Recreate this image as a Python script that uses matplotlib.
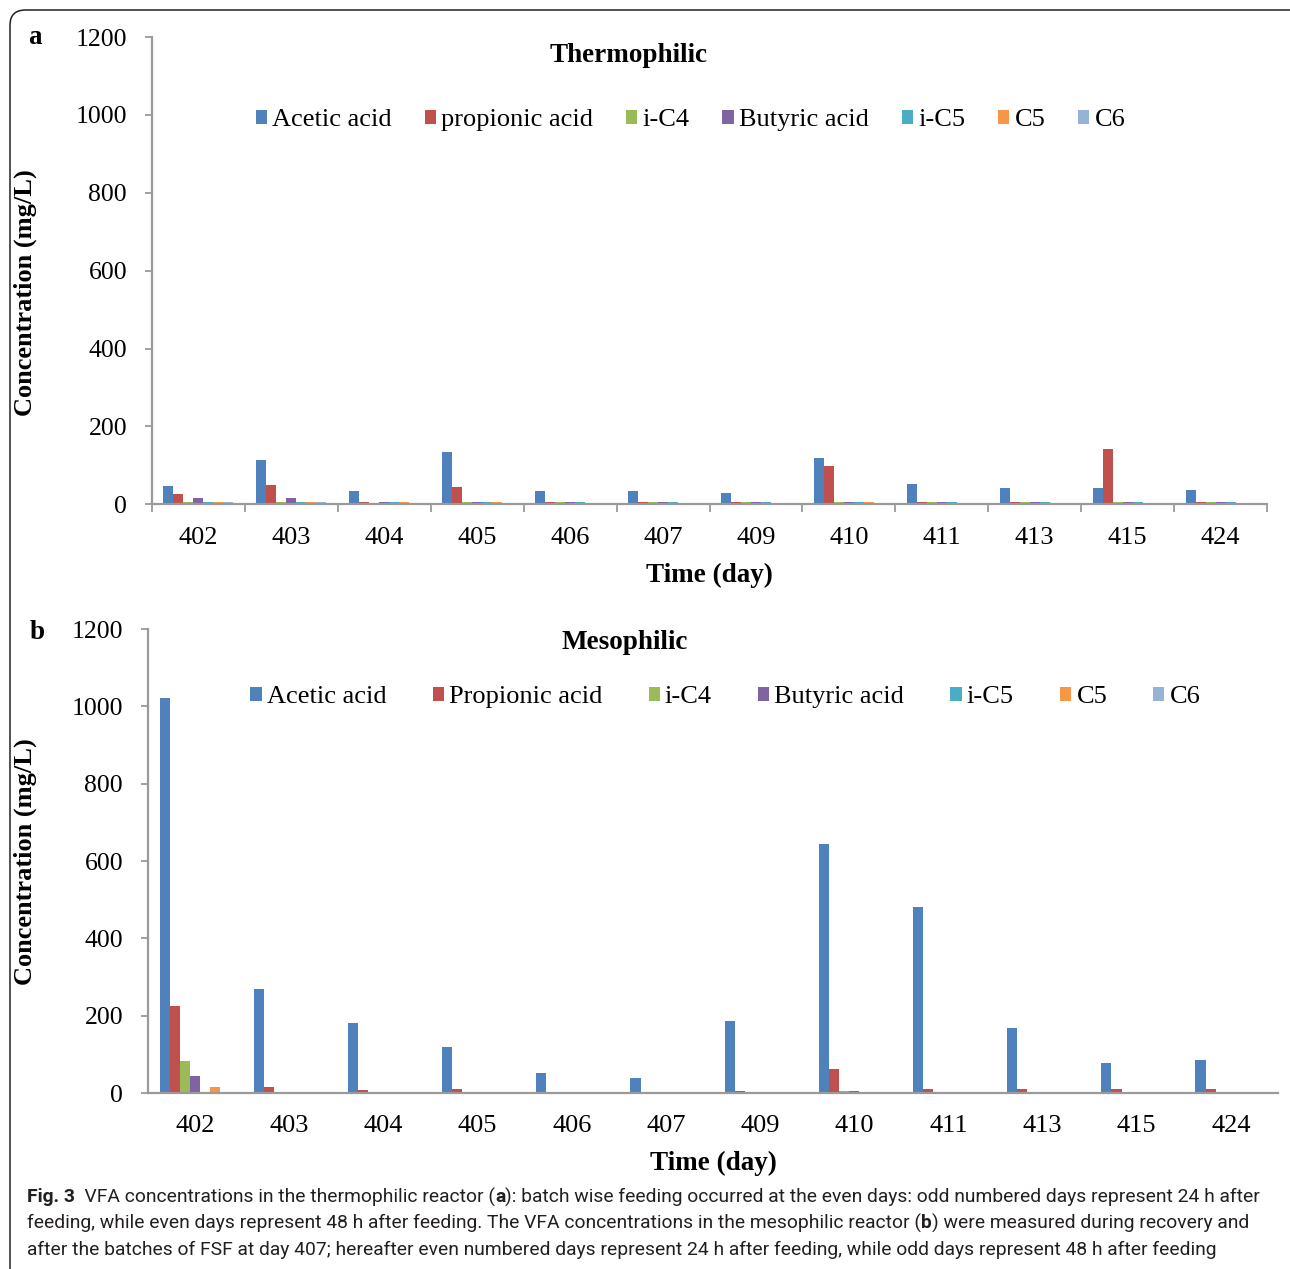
import numpy as np
import matplotlib
matplotlib.use("Agg")
import matplotlib.pyplot as plt
from matplotlib.patches import FancyBboxPatch

# data (mg/L)
days = ["402", "403", "404", "405", "406", "407", "409", "410", "411", "413", "415", "424"]
acids_a = ["Acetic acid", "propionic acid", "i-C4", "Butyric acid", "i-C5", "C5", "C6"]
acids_b = ["Acetic acid", "Propionic acid", "i-C4", "Butyric acid", "i-C5", "C5", "C6"]
colors = ["#4F81BD", "#C0504D", "#9BBB59", "#8064A2", "#4BACC6", "#F79646", "#95B3D7"]

# thermophilic reactor
thermo_acetic = [48, 114, 35, 134, 35, 35, 28, 118, 52, 43, 43, 38]
thermo_propionic = [26, 49, 5, 44, 5, 5, 5, 99, 5, 5, 142, 5]
thermo_ic4 = [5, 5, 0, 5, 5, 5, 5, 5, 5, 5, 5, 5]
thermo_butyric = [16, 16, 5, 5, 5, 5, 5, 5, 5, 5, 5, 5]
thermo_ic5 = [5, 5, 5, 5, 5, 5, 5, 5, 5, 5, 5, 5]
thermo_c5 = [5, 5, 5, 5, 0, 0, 0, 5, 0, 0, 0, 0]
thermo_c6 = [5, 5, 0, 0, 0, 0, 0, 0, 0, 0, 0, 0]

# mesophilic reactor
meso_acetic = [1022, 269, 182, 120, 53, 39, 187, 645, 482, 167, 77, 86]
meso_propionic = [226, 15, 7, 11, 0, 0, 6, 63, 11, 11, 11, 11]
meso_ic4 = [83, 0, 0, 0, 0, 0, 0, 5, 0, 0, 0, 0]
meso_butyric = [43, 0, 0, 0, 0, 0, 0, 5, 0, 0, 0, 0]
meso_ic5 = [0, 0, 0, 0, 0, 0, 0, 0, 0, 0, 0, 0]
meso_c5 = [16, 0, 0, 0, 0, 0, 0, 0, 0, 0, 0, 0]
meso_c6 = [0, 0, 0, 0, 0, 0, 0, 0, 0, 0, 0, 0]

thermo = [thermo_acetic, thermo_propionic, thermo_ic4, thermo_butyric,
          thermo_ic5, thermo_c5, thermo_c6]
meso = [meso_acetic, meso_propionic, meso_ic4, meso_butyric,
        meso_ic5, meso_c5, meso_c6]

plt.rcParams["font.family"] = ["Liberation Serif", "DejaVu Serif"]
axis_grey = "#9A9A9A"

W, H = 1290, 1269
fig = plt.figure(figsize=(W / 100, H / 100), dpi=100)

# outer frame with rounded corner
frame = FancyBboxPatch((10 / W, 1 - 1290 / H), 1300 / W, 1280 / H,
                       boxstyle="round,pad=0,rounding_size=0.012",
                       transform=fig.transFigure, fill=False,
                       edgecolor="#222222", linewidth=1.1)
fig.patches.append(frame)


def draw_panel(ax, series, labels, title, xticks_out, leg_x, leg_y,
               colspacing, title_xy, ylab_x, ylab_y):
    x = np.arange(len(days))
    width = 1 / 9.3
    for i, (vals, lab) in enumerate(zip(series, labels)):
        ax.bar(x + (i - 3) * width, vals, width, color=colors[i], label=lab,
               linewidth=0)
    ax.set_xlim(-0.5, len(days) - 0.5)
    ax.set_ylim(0, 1200)
    ax.set_yticks(np.arange(0, 1201, 200))
    ax.set_xticks(x)
    ax.set_xticklabels(days)
    for s in ["top", "right"]:
        ax.spines[s].set_visible(False)
    for s in ["left", "bottom"]:
        ax.spines[s].set_color(axis_grey)
        ax.spines[s].set_linewidth(1.6)
    ax.tick_params(axis="y", length=5, width=1.3, color=axis_grey,
                   labelsize=18.5, pad=13)
    ax.tick_params(axis="x", which="major", length=0, labelsize=19, pad=16)
    if xticks_out:
        ax.set_xticks(np.arange(-0.5, len(days), 1), minor=True)
        ax.tick_params(axis="x", which="minor", length=6, width=1.3,
                       color=axis_grey)
    ax.set_ylabel("Concentration (mg/L)", fontsize=19, fontweight="bold")
    ax.yaxis.set_label_coords(ylab_x, ylab_y)
    ax.set_xlabel("Time (day)", fontsize=19.5, fontweight="bold")
    ax.xaxis.set_label_coords(0.5, -0.152)
    ax.xaxis.label.set_va("center")
    ax.text(title_xy[0], title_xy[1], title, transform=ax.transAxes,
            ha="center", va="center", fontsize=19.5, fontweight="bold")
    ax.legend(loc="center", bbox_to_anchor=(leg_x, leg_y), ncol=7,
              frameon=False, fontsize=19, handlelength=0.42,
              handleheight=0.42, handletextpad=0.2,
              columnspacing=colspacing)
    return ax


ax1 = fig.add_axes([152 / W, 1 - 504.3 / H, 1115 / W, 467.3 / H])
draw_panel(ax1, thermo, acids_a, "Thermophilic", True, 0.483, 0.822,
           1.25, (0.427, 0.96), -0.103, 0.454)
ax2 = fig.add_axes([148 / W, 1 - 1093 / H, 1130 / W, 464 / H])
draw_panel(ax2, meso, acids_b, "Mesophilic", False, 0.511, 0.853,
           1.75, (0.422, 0.97), -0.098, 0.498)

fig.text(35 / W, 1 - 37 / H, "a", fontsize=19.5, fontweight="bold",
         ha="center", va="center")
fig.text(37 / W, 1 - 632 / H, "b", fontsize=19.5, fontweight="bold",
         ha="center", va="center")

# caption, written piece by piece so bold parts sit inline
caption = [
    [("Fig. 3", "bold"), ("  VFA concentrations in the thermophilic reactor (", "normal"),
     ("a", "bold"), ("): batch wise feeding occurred at the even days: odd numbered days "
                     "represent 24 h after", "normal")],
    [("feeding, while even days represent 48 h after feeding. The VFA concentrations in "
      "the mesophilic reactor (", "normal"), ("b", "bold"),
     (") were measured during recovery and", "normal")],
    [("after the batches of FSF at day 407; hereafter even numbered days represent 24 h "
      "after feeding, while odd days represent 48 h after feeding", "normal")],
]
cap_font = ["Roboto", "DejaVu Sans"]
cap_y = [1197, 1223, 1250]
renderer = fig.canvas.get_renderer()


def write_line(segments, y, size):
    xpos = 27.0
    texts = []
    for txt, weight in segments:
        t = fig.text(xpos / W, 1 - y / H, txt, fontsize=size, fontweight=weight,
                     family=cap_font, ha="left", va="center", color="#231F20")
        xpos += t.get_window_extent(renderer).width
        texts.append(t)
    return xpos, texts


# fit the first caption line to the width seen in the figure
size = 13.0
end, tx = write_line(caption[0], cap_y[0], size)
for t in tx:
    t.remove()
size = size * (1257 - 27) / (end - 27)
for segs, y in zip(caption, cap_y):
    write_line(segs, y, size)

fig.savefig("out.png", dpi=100)
